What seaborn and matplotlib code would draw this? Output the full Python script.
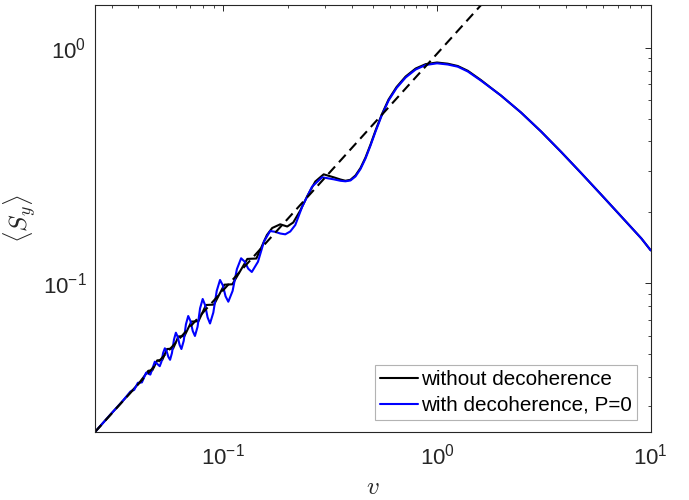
import matplotlib
matplotlib.use("Agg")
import matplotlib.pyplot as plt
import seaborn as sns
import pandas as pd

# ---- data (log-log) ----
v_black = [0.025, 0.02938, 0.03345, 0.03648, 0.04064, 0.04455, 0.04652, 0.04905, 0.05177,
           0.05452, 0.05818, 0.06161, 0.06573, 0.07090, 0.07648, 0.08295, 0.09045, 0.1011,
           0.1102, 0.1295, 0.1427, 0.1599, 0.1693, 0.1846, 0.1991, 0.2124, 0.2291, 0.2472,
           0.2694, 0.2948,
           0.3284, 0.3531, 0.3726, 0.3934, 0.4153, 0.4384, 0.4627, 0.4884, 0.5156, 0.5499,
           0.5932, 0.6467, 0.7129, 0.7943, 0.8850, 1.0, 1.1226, 1.2507, 1.3935, 1.6036,
           1.7870, 1.9910, 2.4717, 3.0686, 3.8087, 4.7273, 5.8693, 7.2862, 9.0437, 10.0]
S_black = [0.02331, 0.02750, 0.03131, 0.03413, 0.03803, 0.04253, 0.04270, 0.04708, 0.04726,
           0.05261, 0.05282, 0.05947, 0.05971, 0.06877, 0.06904, 0.08089, 0.08121, 0.09865,
           0.09903, 0.1269, 0.1274, 0.1603, 0.1717, 0.1780, 0.1742, 0.1812, 0.2037, 0.2347,
           0.2705, 0.2901,
           0.2818, 0.2758, 0.2724, 0.2750, 0.2869, 0.3086, 0.3420, 0.3882, 0.4453, 0.5180,
           0.6027, 0.6811, 0.7546, 0.8160, 0.8518, 0.8654, 0.8553, 0.8362, 0.7980, 0.7293,
           0.6757, 0.6268, 0.5309, 0.4409, 0.3612, 0.2936, 0.2377, 0.1920, 0.1550, 0.1380]

v_blue = [0.025, 0.02938, 0.03345, 0.03676, 0.03825, 0.03981, 0.04158, 0.04351, 0.04553,
          0.04779, 0.05039, 0.05132, 0.05228, 0.05324, 0.05424, 0.05530, 0.05632, 0.05748,
          0.05875, 0.05996, 0.06115, 0.06242, 0.06364, 0.06525, 0.06682, 0.06849, 0.07015,
          0.07192, 0.07363, 0.07574, 0.07782, 0.08004, 0.08215, 0.08439, 0.08662, 0.08976,
          0.09311, 0.09649, 0.09947, 0.1024, 0.1055, 0.1105, 0.1157, 0.1211, 0.1259, 0.1307,
          0.1359, 0.1452, 0.1551, 0.1656, 0.1749, 0.1846, 0.1949, 0.2056, 0.2171, 0.2341,
          0.2600, 0.2897,
          0.3284, 0.3531, 0.3726, 0.3934, 0.4153, 0.4384, 0.4627, 0.4884, 0.5156, 0.5499,
          0.5932, 0.6467, 0.7129, 0.7943, 0.8850, 1.0, 1.1226, 1.2507, 1.3935, 1.6036,
          1.7870, 1.9910, 2.4717, 3.0686, 3.8087, 4.7273, 5.8693, 7.2862, 9.0437, 10.0]
S_blue = [0.02331, 0.02750, 0.03131, 0.03473, 0.03528, 0.03781, 0.03796, 0.04174, 0.04098,
          0.04648, 0.04448, 0.04648, 0.05070, 0.05298, 0.05150, 0.04871, 0.04735, 0.05061,
          0.05773, 0.06170, 0.05929, 0.05477, 0.05261, 0.05700, 0.06699, 0.07263, 0.06918,
          0.06274, 0.05977, 0.06537, 0.07832, 0.08578, 0.08082, 0.07166, 0.06752, 0.07510,
          0.09284, 0.1033, 0.09797, 0.08808, 0.08354, 0.09284, 0.1148, 0.1277, 0.1235, 0.1154,
          0.1117, 0.1234, 0.1508, 0.1667, 0.1654, 0.1627, 0.1614, 0.1659, 0.1768, 0.2118,
          0.2570, 0.2818,
          0.2763, 0.2724, 0.2710, 0.2732, 0.2841, 0.3056, 0.3386, 0.3845, 0.4409, 0.5130,
          0.5969, 0.6745, 0.7473, 0.8081, 0.8444, 0.8586, 0.8486, 0.8307, 0.7925, 0.7257,
          0.6745, 0.6268, 0.5309, 0.4409, 0.3612, 0.2936, 0.2377, 0.1920, 0.1550, 0.1380]

v_dash = [0.025, 1.6036]
S_dash = [0.02331, 1.5136]

labels = ["without decoherence", "with decoherence, P=0"]
x_limits = (0.025, 10.0)
y_limits = (0.02331, 1.5136)

# ---- style ----
sns.set_theme(style="white")
plt.rcParams["font.family"] = ["Liberation Sans", "DejaVu Sans"]
axcol = "#262626"

fig = plt.figure(figsize=(6.89, 5.0), dpi=100)
ax = fig.add_axes([94.7 / 689, 1 - 432.3 / 500, (650.7 - 94.7) / 689, (432.3 - 5.3) / 500])

df_black = pd.DataFrame({"v": v_black, "S": S_black})
df_blue = pd.DataFrame({"v": v_blue, "S": S_blue})
df_dash = pd.DataFrame({"v": v_dash, "S": S_dash})

sns.lineplot(data=df_black, x="v", y="S", ax=ax, color="black", lw=1.5,
             sort=False, estimator=None, label=labels[0])
sns.lineplot(data=df_blue, x="v", y="S", ax=ax, color=(0, 0, 1), lw=1.5,
             sort=False, estimator=None, label=labels[1])
sns.lineplot(data=df_dash, x="v", y="S", ax=ax, color="black", lw=1.5,
             sort=False, estimator=None, linestyle=(0, (4.8, 2.8)))

for ln in ax.get_lines():
    ln.set_solid_joinstyle("round")

ax.set_xscale("log")
ax.set_yscale("log")
ax.set_xlim(*x_limits)
ax.set_ylim(*y_limits)
ax.grid(False)

for s in ax.spines.values():
    s.set_visible(True)
    s.set_color(axcol)
    s.set_linewidth(0.8)

ax.tick_params(which="both", direction="in", top=True, right=True,
               colors=axcol, labelcolor=axcol, labelsize=16)
ax.tick_params(which="major", length=4.3, width=0.7)
ax.tick_params(which="minor", length=2.2, width=0.6)
ax.tick_params(axis="x", which="major", pad=8)
ax.tick_params(axis="y", which="major", pad=6)

ax.set_xlabel("$v$", fontsize=18, math_fontfamily="cm", color=axcol, labelpad=4)
ax.set_ylabel(r"$\langle S_y\rangle$", fontsize=18, math_fontfamily="cm", color=axcol)
ax.yaxis.set_label_coords(-0.10, 0.5)

handles, labs = ax.get_legend_handles_labels()
leg = ax.legend(handles[:2], labs[:2], loc="lower right",
                bbox_to_anchor=(637.3 / 689, 80 / 500), bbox_transform=fig.transFigure,
                fontsize=14.9, frameon=True, fancybox=False, edgecolor="#a0a0a0",
                handlelength=1.85, handletextpad=0.15, borderpad=0.25,
                labelspacing=0.32, borderaxespad=0)
leg.get_frame().set_linewidth(0.8)
leg.get_frame().set_facecolor("white")
for t in leg.get_texts():
    t.set_color("black")

fig.savefig("out.png", dpi=100)
